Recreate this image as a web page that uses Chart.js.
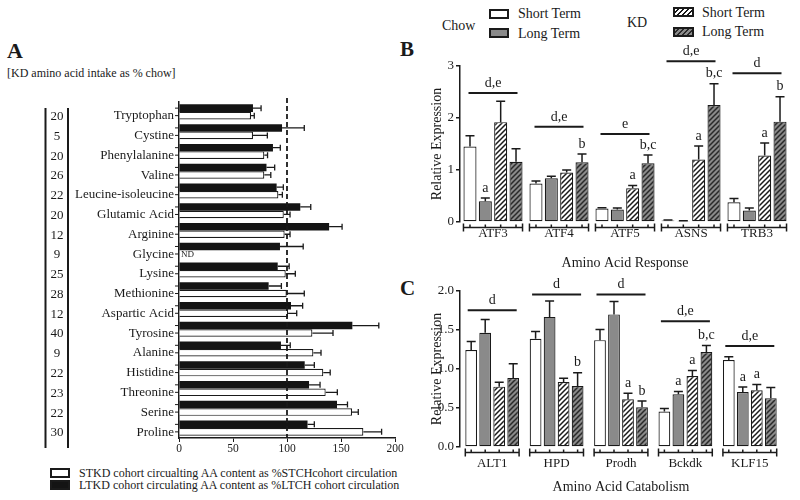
<!DOCTYPE html>
<html>
<head>
<meta charset="utf-8">
<script src="https://cdn.jsdelivr.net/npm/chart.js@4.4.1/dist/chart.umd.min.js"></script>
<style>
  body { margin: 0; background: #fff; width: 800px; height: 500px; position: relative; overflow: hidden;
         font-family: "Liberation Serif", "Times New Roman", Tinos, "DejaVu Serif", serif; color: #1a1a1a; }
  .t { position: absolute; white-space: nowrap; line-height: 1; }
  .box { position: absolute; box-sizing: border-box; border: 2px solid #1a1a1a; }
  canvas { position: absolute; }
</style>
</head>
<body>
<div class="t" style="left:7px;top:40px;font-size:22px;font-weight:bold">A</div>
<div class="t" style="left:7px;top:67px;font-size:12px">[KD amino acid intake as % chow]</div>
<div class="box" style="left:50px;top:468px;width:20px;height:10px;background:#fff"></div>
<div class="box" style="left:50px;top:480px;width:20px;height:10px;background:#141414"></div>
<div class="t" style="left:79px;top:467px;font-size:12px">STKD cohort circualting AA content as %STCHcohort circulation</div>
<div class="t" style="left:79px;top:479px;font-size:12px">LTKD cohort circulating AA content as %LTCH cohort circulation</div>

<div class="t" style="left:400px;top:39px;font-size:21px;font-weight:bold">B</div>
<div class="t" style="left:400px;top:278px;font-size:21px;font-weight:bold">C</div>

<div class="t" style="left:442px;top:19px;font-size:14px">Chow</div>
<div class="box" style="left:489px;top:9px;width:20px;height:10px;background:#fff"></div>
<div class="box" style="left:489px;top:28px;width:20px;height:10px;background:#8a8a8a"></div>
<div class="t" style="left:518px;top:7px;font-size:14px">Short Term</div>
<div class="t" style="left:518px;top:27px;font-size:14px">Long Term</div>
<div class="t" style="left:627px;top:16px;font-size:14px">KD</div>
<div class="box" style="left:673px;top:7px;width:21px;height:10px;background:repeating-linear-gradient(135deg,#fff 0 2px,#1a1a1a 2px 3.5px)"></div>
<div class="box" style="left:673px;top:27px;width:21px;height:10px;background:repeating-linear-gradient(135deg,#8a8a8a 0 2px,#2a2a2a 2px 3.5px)"></div>
<div class="t" style="left:702px;top:6px;font-size:14px">Short Term</div>
<div class="t" style="left:702px;top:25px;font-size:14px">Long Term</div>

<canvas id="panelA" width="410" height="500" style="left:0;top:0;width:410px;height:500px"></canvas>
<canvas id="panelB" width="400" height="235" style="left:400px;top:40px;width:400px;height:235px"></canvas>
<canvas id="panelC" width="400" height="225" style="left:400px;top:275px;width:400px;height:225px"></canvas>

<script>
// ---------- Panel A: circulating amino acids ----------
const aminoAcids = ["Tryptophan", "Cystine", "Phenylalanine", "Valine", "Leucine-isoleucine", "Glutamic Acid",
  "Arginine", "Glycine", "Lysine", "Methionine", "Aspartic Acid", "Tyrosine", "Alanine", "Histidine",
  "Threonine", "Serine", "Proline"];
const kdIntake = [20, 5, 20, 26, 22, 20, 12, 9, 25, 28, 12, 40, 9, 22, 23, 22, 30];
const ltkd    = [68.5, 95.4, 87, 81, 90.4, 112.3, 139, 93.5, 91.4, 83, 103.7, 160.5, 94.4, 116.4, 120.4, 146.3, 119];
const ltkdSem = [7.5, 20.6, 6.8, 7.6, 6.2, 9.7, 12, 21.5, 10.6, 11.8, 10.8, 24.5, 8.6, 8.9, 10.2, 9.7, 6.3];
const stkd    = [66.7, 68.5, 79, 79, 92, 97, 97.8, null, 98.8, 99.7, 101, 123.5, 124.4, 133.6, 135.8, 160.2, 170.7];
const stkdSem = [3, 13.3, 3, 6, 3.7, 5.8, 5, null, 8.9, 16.3, 8, 19.1, 7.1, 6.4, 10.8, 5.8, 16.9];
const pctTicks = [0, 50, 100, 150, 200];

// ---------- Panel B: amino acid response ----------
const genesB = ["ATF3", "ATF4", "ATF5", "ASNS", "TRB3"];
const chowShortB = [1.45, 0.74, 0.26, 0.03, 0.38];
const chowShortBErr = [0.21, 0.05, 0.015, 0.01, 0.07];
const chowLongB = [0.40, 0.84, 0.24, 0.02, 0.22];
const chowLongBErr = [0.06, 0.04, 0.03, 0.005, 0.05];
const kdShortB = [1.92, 0.95, 0.65, 1.20, 1.28];
const kdShortBErr = [0.40, 0.05, 0.05, 0.26, 0.24];
const kdLongB = [1.16, 1.15, 1.13, 2.25, 1.93];
const kdLongBErr = [0.25, 0.16, 0.16, 0.41, 0.48];
const sigLineB = [2.48, 1.83, 1.69, 3.09, 2.86];
const sigTextB = ["d,e", "d,e", "e", "d,e", "d"];
const lettersB = [["", "a", "", ""], ["", "", "", "b"], ["", "", "a", "b,c"], ["", "", "a", "b,c"], ["", "", "a", "b"]];

// ---------- Panel C: amino acid catabolism ----------
const genesC = ["ALT1", "HPD", "Prodh", "Bckdk", "KLF15"];
const chowShortC = [1.243, 1.387, 1.37, 0.455, 1.115];
const chowShortCErr = [0.11, 0.093, 0.136, 0.039, 0.042];
const chowLongC = [1.464, 1.668, 1.70, 0.677, 0.706];
const chowLongCErr = [0.17, 0.204, 0.164, 0.033, 0.064];
const kdShortC = [0.774, 0.834, 0.613, 0.91, 0.728];
const kdShortCErr = [0.056, 0.046, 0.077, 0.07, 0.072];
const kdLongC = [0.885, 0.783, 0.51, 1.217, 0.626];
const kdLongCErr = [0.183, 0.17, 0.08, 0.085, 0.136];
const sigLineC = [1.753, 1.954, 1.954, 1.613, 1.294];
const sigTextC = ["d", "d", "d", "d,e", "d,e"];
const lettersC = [["", "", "", ""], ["", "", "", "b"], ["", "", "a", "b"], ["", "a", "a", "b,c"], ["", "a", "a", ""]];

const ink = "#1a1a1a";
const grey = "#8a8a8a";
const serif = '"Liberation Serif", "Times New Roman", Tinos, "DejaVu Serif", serif';
Chart.defaults.font.family = serif;
Chart.defaults.color = ink;
Chart.defaults.animation = false;

function hatch(bg, fg) {
  const c = document.createElement("canvas");
  c.width = 5; c.height = 5;
  const g = c.getContext("2d");
  g.fillStyle = bg; g.fillRect(0, 0, 5, 5);
  g.strokeStyle = fg; g.lineWidth = 1.5;
  g.beginPath();
  g.moveTo(-1, 6); g.lineTo(6, -1);
  g.moveTo(-1, 1); g.lineTo(1, -1);
  g.moveTo(4, 6); g.lineTo(6, 4);
  g.stroke();
  return g.createPattern(c, "repeat");
}
const hatchWhite = hatch("#ffffff", ink);
const hatchGrey = hatch(grey, "#2a2a2a");

// ---- panel A extras: error bars, dashed 100% line, bar ticks, intake column
const panelAExtras = {
  id: "panelAExtras",
  afterDatasetsDraw(chart) {
    const { ctx, chartArea, scales: { x } } = chart;
    const black = chart.getDatasetMeta(0).data;
    const white = chart.getDatasetMeta(1).data;
    ctx.save();
    ctx.strokeStyle = ink;
    ctx.lineWidth = 1.3;
    [[black, ltkd, ltkdSem], [white, stkd, stkdSem]].forEach(([bars, vals, sem]) => {
      bars.forEach((bar, i) => {
        if (vals[i] == null) return;
        const x0 = x.getPixelForValue(vals[i]);
        const x1 = x.getPixelForValue(vals[i] + sem[i]);
        ctx.beginPath();
        ctx.moveTo(x0, bar.y); ctx.lineTo(x1, bar.y);
        ctx.moveTo(x1, bar.y - 3); ctx.lineTo(x1, bar.y + 3);
        ctx.stroke();
      });
    });
    // small ticks at every bar
    const ax = chartArea.left;
    ctx.lineWidth = 1;
    [...black, ...white].forEach(bar => {
      ctx.beginPath(); ctx.moveTo(ax - 4, bar.y); ctx.lineTo(ax, bar.y); ctx.stroke();
    });
    // dashed line at 100 %
    const xr = x.getPixelForValue(100);
    ctx.setLineDash([5, 3]);
    ctx.lineWidth = 1.8;
    ctx.beginPath(); ctx.moveTo(xr, chartArea.top - 4); ctx.lineTo(xr, chartArea.bottom); ctx.stroke();
    ctx.setLineDash([]);
    // ND for glycine
    ctx.fillStyle = ink;
    ctx.font = "9px " + serif;
    ctx.textBaseline = "middle";
    ctx.textAlign = "left";
    stkd.forEach((v, i) => { if (v == null) ctx.fillText("ND", ax + 2, white[i].y + 1); });
    // intake column with brackets
    ctx.lineWidth = 2;
    ctx.beginPath();
    ctx.moveTo(45.5, chartArea.top + 6); ctx.lineTo(45.5, chartArea.bottom + 10);
    ctx.moveTo(68, chartArea.top + 6); ctx.lineTo(68, chartArea.bottom + 10);
    ctx.stroke();
    ctx.font = "13px " + serif;
    ctx.textAlign = "center";
    kdIntake.forEach((n, i) => ctx.fillText(String(n), 57, white[i].y + 1));
    ctx.restore();
  }
};

new Chart(document.getElementById("panelA"), {
  type: "bar",
  data: {
    labels: aminoAcids,
    datasets: [
      { label: "LTKD", data: ltkd, backgroundColor: "#141414", borderColor: ink, borderWidth: 0,
        categoryPercentage: 0.76, barPercentage: 1.0 },
      { label: "STKD", data: stkd, backgroundColor: "#ffffff", borderColor: ink, borderWidth: 1.2,
        borderSkipped: "start", categoryPercentage: 0.76, barPercentage: 1.0 }
    ]
  },
  options: {
    indexAxis: "y",
    responsive: false,
    layout: { padding: { top: 102, right: 15, left: 0, bottom: 0 } },
    plugins: { legend: { display: false }, tooltip: { enabled: false } },
    scales: {
      x: {
        min: 0, max: 200,
        afterBuildTicks: s => { s.ticks = pctTicks.map(v => ({ value: v })); },
        afterFit: s => { s.height = 62; },
        grid: { drawOnChartArea: false, drawTicks: true, tickLength: 4, color: ink },
        border: { color: ink, width: 1.5 },
        ticks: { font: { size: 11.5 }, padding: 0 }
      },
      y: {
        afterFit: s => { s.width = 179; },
        grid: { display: false, drawTicks: false },
        border: { color: ink, width: 1.5 },
        ticks: { font: { size: 13 }, padding: 5, labelOffset: 4, autoSkip: false }
      }
    }
  },
  plugins: [panelAExtras]
});

// ---- panels B and C: grouped bars with SEM, significance bars and letters
function groupMarks(errs, sigY, sigText, letters) {
  return {
    id: "groupMarks",
    afterDatasetsDraw(chart) {
      const { ctx, chartArea, scales: { y } } = chart;
      const metas = [0, 1, 2, 3].map(d => chart.getDatasetMeta(d).data);
      ctx.save();
      ctx.strokeStyle = ink;
      ctx.fillStyle = ink;
      ctx.font = "14px " + serif;
      ctx.textAlign = "center";
      ctx.textBaseline = "bottom";
      metas.forEach((bars, d) => {
        const vals = chart.data.datasets[d].data;
        bars.forEach((bar, g) => {
          const top = y.getPixelForValue(vals[g] + errs[d][g]);
          ctx.lineWidth = 1.5;
          ctx.beginPath();
          ctx.moveTo(bar.x, bar.y); ctx.lineTo(bar.x, top);
          ctx.moveTo(bar.x - 4.5, top); ctx.lineTo(bar.x + 4.5, top);
          ctx.stroke();
          if (letters[g][d]) ctx.fillText(letters[g][d], bar.x, top - 3);
        });
      });
      // segmented category axis
      const base = chartArea.bottom + 5.5;
      ctx.lineWidth = 1.5;
      metas[0].forEach((b0, g) => {
        const b3 = metas[3][g];
        const x0 = b0.x - b0.width / 2, x1 = b3.x + b3.width / 2;
        ctx.beginPath();
        ctx.moveTo(x0, base); ctx.lineTo(x1, base);
        ctx.moveTo(x0, base - 4); ctx.lineTo(x0, base + 4);
        ctx.moveTo(x1, base - 4); ctx.lineTo(x1, base + 4);
        metas.forEach(m => { ctx.moveTo(m[g].x, base); ctx.lineTo(m[g].x, base - 3); });
        ctx.stroke();
        // significance bar
        const cx = (b0.x + b3.x) / 2;
        const ly = y.getPixelForValue(sigY[g]);
        ctx.lineWidth = 2;
        ctx.beginPath(); ctx.moveTo(cx - 24.5, ly); ctx.lineTo(cx + 24.5, ly); ctx.stroke();
        ctx.fillText(sigText[g], cx, ly - 3);
        ctx.lineWidth = 1.5;
      });
      ctx.restore();
    }
  };
}

function geneChart(id, genes, series, errs, sigY, sigText, letters, opt) {
  const fills = ["#ffffff", grey, hatchWhite, hatchGrey];
  return new Chart(document.getElementById(id), {
    type: "bar",
    data: {
      labels: genes,
      datasets: series.map((s, d) => ({
        data: s, backgroundColor: fills[d], borderColor: ink, borderWidth: 1.2, borderSkipped: false,
        categoryPercentage: opt.cat, barPercentage: opt.bar
      }))
    },
    options: {
      responsive: false,
      layout: { padding: opt.pad },
      plugins: { legend: { display: false }, tooltip: { enabled: false } },
      scales: {
        x: {
          afterFit: s => { s.height = opt.xh; },
          grid: { display: false, drawTicks: false },
          border: { display: false },
          ticks: { font: { size: 13 }, padding: opt.labelPad },
          title: { display: true, text: opt.xTitle, font: { size: 14 }, padding: { top: 0, bottom: opt.titlePad } }
        },
        y: {
          min: 0, max: opt.max,
          afterFit: s => { s.width = 60; },
          afterBuildTicks: s => { s.ticks = opt.yTicks.map(v => ({ value: v })); },
          grid: { drawOnChartArea: false, drawTicks: true, tickLength: 4, color: ink, lineWidth: 1.5 },
          border: { color: ink, width: 1.5 },
          ticks: { font: { size: 13 }, padding: 2, callback: opt.fmt },
          title: { display: true, text: "Relative Expression", font: { size: 14 }, padding: { top: 28.6, bottom: 0 } }
        }
      }
    },
    plugins: [groupMarks(errs, sigY, sigText, letters)]
  });
}

geneChart("panelB", genesB,
  [chowShortB, chowLongB, kdShortB, kdLongB],
  [chowShortBErr, chowLongBErr, kdShortBErr, kdLongBErr],
  sigLineB, sigTextB, lettersB,
  { pad: { top: 26, right: 10, left: 0, bottom: 0 }, xh: 53, max: 3, yTicks: [0, 1, 2, 3],
    fmt: v => String(v), cat: 0.93, bar: 0.85, labelPad: 4, titlePad: 3.6, xTitle: "Amino Acid Response" });

geneChart("panelC", genesC,
  [chowShortC, chowLongC, kdShortC, kdLongC],
  [chowShortCErr, chowLongCErr, kdShortCErr, kdLongCErr],
  sigLineC, sigTextC, lettersC,
  { pad: { top: 16, right: 18, left: 0, bottom: 0 }, xh: 53, max: 2, yTicks: [0, 0.5, 1, 1.5, 2],
    fmt: v => v.toFixed(1), cat: 0.87, bar: 0.84, labelPad: 8.4, titlePad: 4.1, xTitle: "Amino Acid Catabolism" });
</script>
</body>
</html>
